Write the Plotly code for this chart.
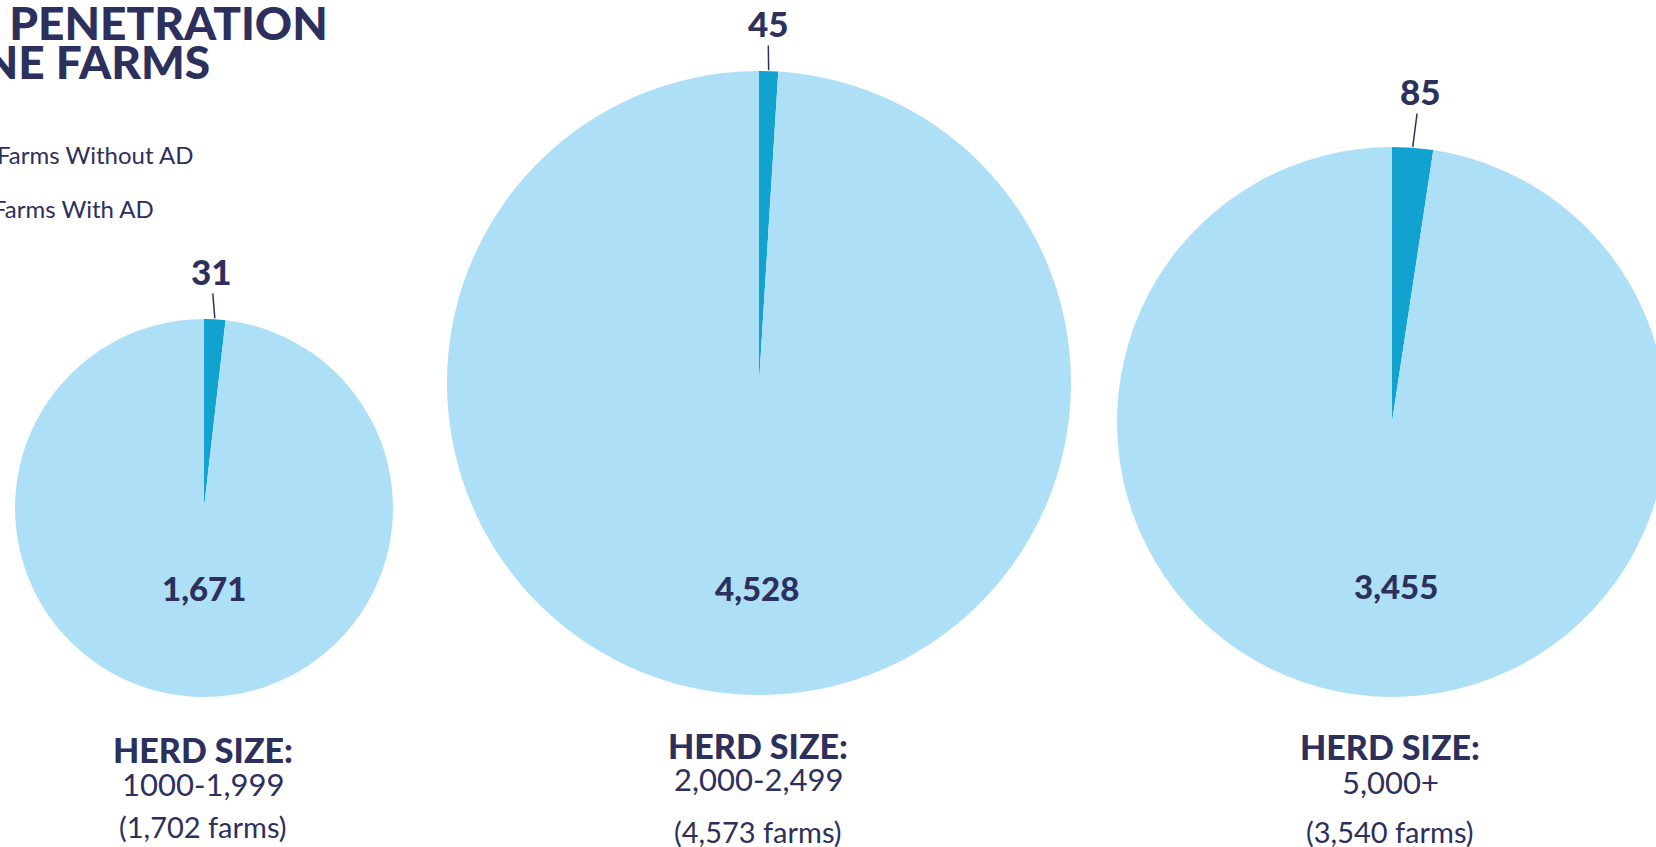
import math
import plotly.graph_objects as go

# ---------------- data ----------------
groups = ["1000-1,999", "2,000-2,499", "5,000+"]
farms_total = [1702, 4573, 3540]
farms_with_ad = [31, 45, 85]
farms_without_ad = [1671, 4528, 3455]
slice_labels = ["Farms With AD", "Farms Without AD"]
title_lines = ["AD PENETRATION", "ON BOVINE FARMS"]

# ---------------- style / layout ----------------
W, H = 1700, 847
NAVY = "#2d2f5c"
LIGHT = "#ade0f7"
DARK = "#12a2cf"
FONT = "Lato"
HEAVY = "Lato Black, Lato"

# pie centres & radii in pixels
centers = [(204, 508, 189), (759, 383, 312), (1392, 422, 275)]
# label positions (pixels)
small_lbl = [(211, 271), (768, 23), (1420, 91)]
big_lbl = [(204, 588), (757, 588), (1396, 586)]
herd_y = [749, 745, 746]
range_y = [784, 779, 782]
farms_y = [826, 831, 831]
label_x = [203, 758, 1390]


def px(x):
    return x / W


def py(y):
    return 1 - y / H


fig = go.Figure()
for i, (cx, cy, r) in enumerate(centers):
    fig.add_trace(go.Pie(
        labels=slice_labels,
        values=[farms_with_ad[i], farms_without_ad[i]],
        sort=False,
        direction="clockwise",
        rotation=0,
        marker=dict(colors=[DARK, LIGHT], line=dict(width=0)),
        textinfo="none",
        hoverinfo="label+value",
        showlegend=False,
        domain=dict(x=[px(cx - r), px(cx + r)], y=[py(cy + r), py(cy - r)]),
    ))


def txt(x, y, text, size, heavy=False, xanchor="center"):
    f = dict(family=HEAVY if heavy else FONT, size=size, color=NAVY)
    if heavy:
        f["weight"] = 900
    return dict(x=px(x), y=py(y), xref="paper", yref="paper", text=text,
                showarrow=False, xanchor=xanchor, yanchor="middle",
                borderpad=0, font=f)


ann = []
for i, (cx, cy, r) in enumerate(centers):
    frac = farms_with_ad[i] / (farms_with_ad[i] + farms_without_ad[i])
    mid = math.radians(frac * 360 / 2)
    tx = cx + r * math.sin(mid)
    ty = cy - r * math.cos(mid) - 1
    lx, ly = small_lbl[i]
    ann.append(dict(x=px(tx), y=py(ty), xref="paper", yref="paper",
                    text=f"{farms_with_ad[i]:,}", showarrow=True,
                    arrowhead=0, arrowwidth=1.5, arrowcolor=NAVY,
                    ax=lx - tx, ay=ly - ty, standoff=0,
                    xanchor="center", yanchor="middle",
                    font=dict(family=HEAVY, size=35, color=NAVY, weight=900)))
    bx, by = big_lbl[i]
    ann.append(txt(bx, by, f"{farms_without_ad[i]:,}", 33, heavy=True))
    ann.append(txt(label_x[i], herd_y[i], "HERD SIZE:", 34, heavy=True))
    ann.append(txt(label_x[i], range_y[i], groups[i], 31))
    ann.append(txt(label_x[i], farms_y[i], f"({farms_total[i]:,} farms)", 29))

# title (cut at the left edge, as in the reference)
ann.append(txt(329, 23, title_lines[0], 46, heavy=True, xanchor="right"))
ann.append(txt(211, 61, title_lines[1], 46, heavy=True, xanchor="right"))
# legend texts
ann.append(txt(194, 154, slice_labels[1], 24, xanchor="right"))
ann.append(txt(155, 208, slice_labels[0], 24, xanchor="right"))

fig.update_layout(
    width=W, height=H, autosize=False,
    margin=dict(l=0, r=0, t=0, b=0),
    paper_bgcolor="white", plot_bgcolor="white",
    annotations=ann,
)

fig.write_html(
    "out.html",
    config={"displayModeBar": False},
    post_script="document.body.style.margin='0';document.body.style.overflow='hidden';"
                "document.documentElement.style.overflow='hidden';",
)
